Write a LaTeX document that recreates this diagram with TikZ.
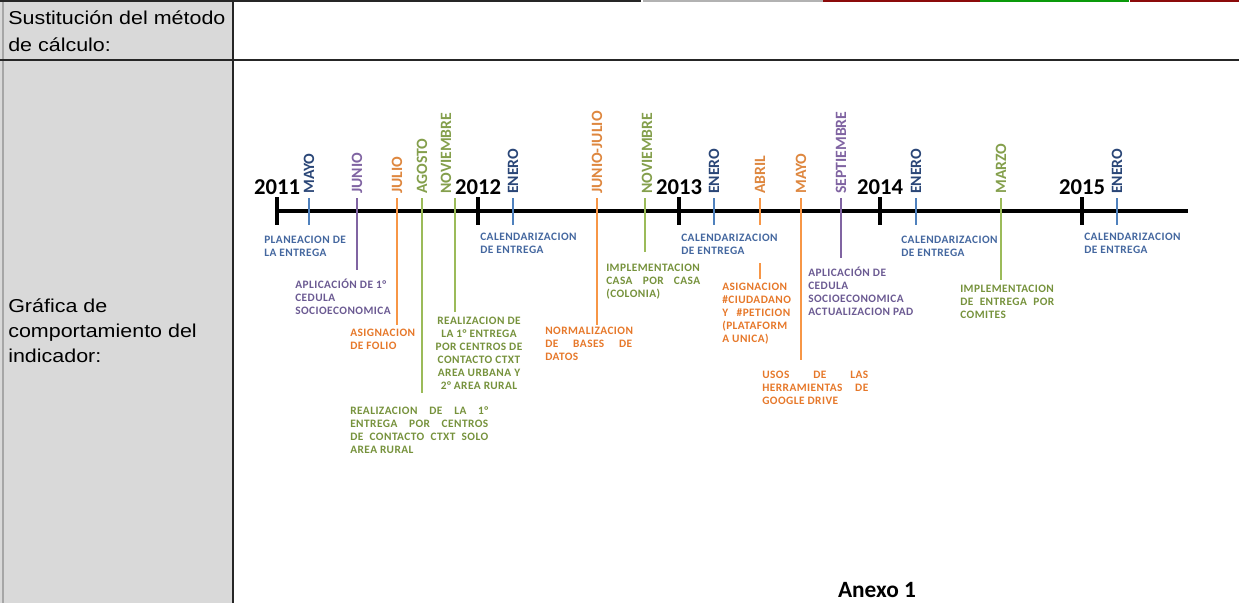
\documentclass[tikz,border=0pt]{standalone}
\usepackage{fontspec}
\setmainfont{Carlito}
\newfontfamily\etiq[LetterSpace=4]{Carlito}
\newfontfamily\celda[FakeStretch=1.15]{Liberation Sans}
\hyphenpenalty=10000
\definecolor{azul}{HTML}{4F81BD}
\definecolor{azultxt}{HTML}{44679F}
\definecolor{azulmes}{HTML}{2A4677}
\definecolor{morado}{HTML}{8064A2}
\definecolor{moradotxt}{HTML}{6B5A92}
\definecolor{naranja}{HTML}{F79646}
\definecolor{naranjatxt}{HTML}{E6782A}
\definecolor{verde}{HTML}{9BBB59}
\definecolor{verdetxt}{HTML}{76923C}
\definecolor{gris}{HTML}{D9D9D9}
\definecolor{rojobarra}{HTML}{8B0A0A}
\definecolor{verdebarra}{HTML}{0A9A0A}
\tikzset{
  celda/.style={anchor=north west,inner sep=0pt,align=left,font=\celda\fontsize{14}{20}\selectfont},
  anio/.style={inner sep=0pt,font=\bfseries\fontsize{17}{18}\selectfont},
  mes/.style={rotate=90,anchor=west,inner sep=0pt,font=\bfseries\fontsize{11.8}{12}\selectfont},
  desc/.style={anchor=north west,inner sep=0pt,align=left,font=\etiq\bfseries\fontsize{8.5}{9.75}\selectfont},
  just/.style={desc,text width=#1,align=justify},
  marca/.style={line width=2.3pt},
  linea/.style={line width=1.8pt},
}
\begin{document}
\begin{tikzpicture}[x=0.75pt,y=-0.75pt]
  \useasboundingbox (0,0) rectangle (1239,603);
  % draw table
  \fill[gris] (0,0) rectangle (233,603);
  \draw[gray!70,line width=0.8pt] (3,0) -- (3,603);
  \fill[black!85] (0,0) rectangle (641,2);
  \fill[gray!60] (643,0) rectangle (823,2);
  \fill[rojobarra] (823,0) rectangle (980,2);
  \fill[verdebarra] (980,0) rectangle (1129,2);
  \fill[rojobarra] (1130,0) rectangle (1239,2);
  \draw[black!85,line width=1.5pt] (0,60) -- (1239,60);
  \draw[black!85,line width=1.5pt] (233,0) -- (233,603);
  % draw row titles
  \node at(8,10.5)[celda](metodo){Sustitución del método\\de cálculo:};
  \node at(8,298)[celda,font=\celda\fontsize{14}{19}\selectfont](grafica){Gráfica de\\comportamiento del\\indicador:};
  % draw axis
  \coordinate (ini) at (275,211);
  \coordinate (fin) at (1188,211);
  \draw[line width=2.3pt] (ini) -- (fin);
  % draw years
  \foreach \x/\a in {277/2011,478/2012,679/2013,880/2014,1082/2015}{
    \node at(\x,187)[anio](a\a){\a};
    \draw[marca] (\x,197) -- (\x,225);
  }
  % draw months
  \node at(309,194)[mes,azulmes](mayo11){MAYO};
  \node at(357,194)[mes,morado](junio11){JUNIO};
  \node at(397,194)[mes,naranja!90!black](julio11){JULIO};
  \node at(422,194)[mes,verde!85!black](agosto11){AGOSTO};
  \node at(446,194)[mes,verde!85!black](nov11){NOVIEMBRE};
  \node at(513,194)[mes,azulmes](enero12){ENERO};
  \node at(597,194)[mes,naranja!90!black](junjul12){JUNIO-JULIO};
  \node at(647,194)[mes,verde!85!black](nov12){NOVIEMBRE};
  \node at(714,194)[mes,azulmes](enero13){ENERO};
  \node at(760,194)[mes,naranja!90!black](abril13){ABRIL};
  \node at(801,194)[mes,naranja!90!black](mayo13){MAYO};
  \node at(841,194)[mes,morado](sept13){SEPTIEMBRE};
  \node at(916,194)[mes,azulmes](enero14){ENERO};
  \node at(1001,194)[mes,verde!85!black](marzo14){MARZO};
  \node at(1117,194)[mes,azulmes](enero15){ENERO};
  % draw event texts
  \node at(264,236)[desc,azultxt](plan){PLANEACION DE\\LA ENTREGA};
  \node at(295,279)[desc,moradotxt](cedula1){APLICACIÓN DE 1°\\CEDULA\\SOCIOECONOMICA};
  \node at(350,329)[desc,naranjatxt](folio){ASIGNACION\\DE FOLIO};
  \node at(350,406)[just=103.5pt,verdetxt](rural){REALIZACION DE LA 1°\linebreak ENTREGA POR CENTROS\linebreak DE CONTACTO CTXT SOLO\linebreak AREA RURAL};
  \node at(479,317)[desc,anchor=north,align=center,verdetxt](urbana){REALIZACION DE\\LA 1° ENTREGA\\POR CENTROS DE\\CONTACTO CTXT\\AREA URBANA Y\\2° AREA RURAL};
  \node at(480,233)[desc,azultxt](cal12){CALENDARIZACION\\DE ENTREGA};
  \node at(545,327)[just=65.25pt,naranjatxt](bases){NORMALIZACION\linebreak DE BASES DE\linebreak DATOS};
  \node at(606,264)[just=70.5pt,verdetxt](casa){IMPLEMENTACION\linebreak CASA POR CASA\linebreak (COLONIA)};
  \node at(681,234)[desc,azultxt](cal13){CALENDARIZACION\\DE ENTREGA};
  \node at(722,283)[just=51pt,naranjatxt](peticion){ASIGNACION\linebreak \#CIUDADANO\linebreak Y \#PETICION\linebreak (PLATAFORM\linebreak A UNICA)};
  \node at(762,371)[just=79.5pt,naranjatxt](drive){USOS DE LAS\linebreak HERRAMIENTAS DE\linebreak GOOGLE DRIVE};
  \node at(808,267)[desc,moradotxt](cedula2){APLICACIÓN DE\\CEDULA\\SOCIOECONOMICA\\ACTUALIZACION PAD};
  \node at(901,236)[desc,azultxt](cal14){CALENDARIZACION\\DE ENTREGA};
  \node at(960,285)[just=70.5pt,verdetxt](comites){IMPLEMENTACION\linebreak DE ENTREGA POR\linebreak COMITES};
  \node at(1084,233)[desc,azultxt](cal15){CALENDARIZACION\\DE ENTREGA};
  % draw month lines
  \coordinate (mayo11-f) at (309,225);
  \coordinate (junio11-f) at (357,270);
  \coordinate (julio11-f) at (397,325);
  \coordinate (agosto11-f) at (422,393);
  \coordinate (nov11-i) at (455,198);
  \coordinate (nov11-f) at (455,312);
  \coordinate (enero12-f) at (513,225);
  \coordinate (junjul12-f) at (597,325);
  \coordinate (nov12-i) at (645,198);
  \coordinate (nov12-f) at (645,252);
  \coordinate (enero13-f) at (714,225);
  \coordinate (abril13-f) at (760,225);
  \coordinate (abril13-g) at (760,263);
  \coordinate (abril13-h) at (760,279);
  \coordinate (mayo13-f) at (801,360);
  \coordinate (sept13-f) at (841,258);
  \coordinate (enero14-f) at (916,225);
  \coordinate (marzo14-f) at (1001,280);
  \coordinate (enero15-f) at (1117,225);
  \foreach \m/\c in {mayo11/azul,junio11/morado,julio11/naranja,agosto11/verde,enero12/azul,junjul12/naranja,enero13/azul,abril13/naranja,mayo13/naranja,sept13/morado,enero14/azul,marzo14/verde,enero15/azul}
    \draw[linea,\c,shorten <=3pt] (\m.west) -- (\m-f);
  \draw[linea,verde] (nov11-i) -- (nov11-f);
  \draw[linea,verde] (nov12-i) -- (nov12-f);
  \draw[linea,naranja] (abril13-g) -- (abril13-h);
  % draw annex title
  \node at(877,590)[font=\bfseries\fontsize{17.5}{18}\selectfont](anexo){Anexo 1};
\end{tikzpicture}
\end{document}
